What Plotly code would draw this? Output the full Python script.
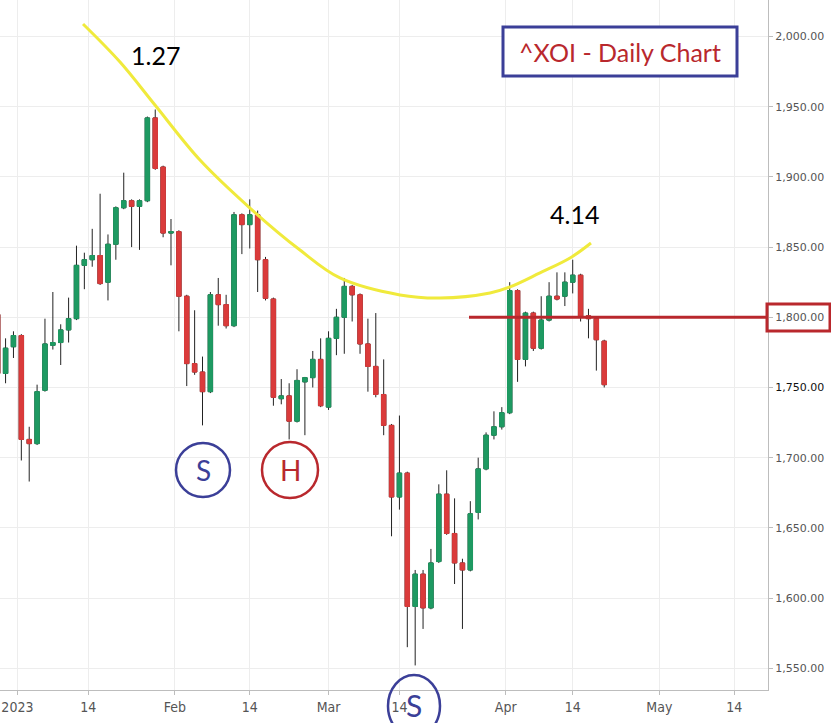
import plotly.graph_objects as go

# ---------------- data ----------------
dates = [
    "2022-12-28", "2022-12-29", "2022-12-30",
    "2023-01-03", "2023-01-04", "2023-01-05", "2023-01-06", "2023-01-09", "2023-01-10",
    "2023-01-11", "2023-01-12", "2023-01-13", "2023-01-17", "2023-01-18", "2023-01-19",
    "2023-01-20", "2023-01-23", "2023-01-24", "2023-01-25", "2023-01-26", "2023-01-27",
    "2023-01-30", "2023-01-31",
    "2023-02-01", "2023-02-02", "2023-02-03", "2023-02-06", "2023-02-07", "2023-02-08",
    "2023-02-09", "2023-02-10", "2023-02-13", "2023-02-14", "2023-02-15", "2023-02-16",
    "2023-02-17", "2023-02-21", "2023-02-22", "2023-02-23", "2023-02-24", "2023-02-27",
    "2023-02-28",
    "2023-03-01", "2023-03-02", "2023-03-03", "2023-03-06", "2023-03-07", "2023-03-08",
    "2023-03-09", "2023-03-10", "2023-03-13", "2023-03-14", "2023-03-15", "2023-03-16",
    "2023-03-17", "2023-03-20", "2023-03-21", "2023-03-22", "2023-03-23", "2023-03-24",
    "2023-03-27", "2023-03-28", "2023-03-29", "2023-03-30", "2023-03-31",
    "2023-04-03", "2023-04-04", "2023-04-05", "2023-04-06", "2023-04-10", "2023-04-11",
    "2023-04-12", "2023-04-13", "2023-04-14", "2023-04-17", "2023-04-18", "2023-04-19",
    "2023-04-20",
]
opens = [
    1802, 1760, 1779,
    1787, 1713, 1710, 1748, 1780, 1782, 1791, 1799, 1837, 1841, 1844, 1825,
    1852, 1878, 1883, 1879, 1883, 1942, 1907, 1860,
    1861, 1815, 1767, 1761, 1747, 1816, 1809, 1794, 1873, 1866, 1873, 1841,
    1813, 1742, 1744, 1726, 1754, 1757, 1770,
    1736, 1785, 1800, 1822, 1816, 1781, 1765, 1745, 1723, 1672, 1689, 1594,
    1617, 1593, 1626, 1674, 1646, 1625, 1620, 1661, 1692, 1716, 1722,
    1732, 1819, 1770, 1803, 1778, 1798, 1815, 1815, 1825, 1830, 1801, 1799,
    1783,
]
highs = [
    1806, 1785, 1790,
    1788, 1722, 1752, 1799, 1818, 1795, 1814, 1851, 1846, 1863, 1888, 1859,
    1879, 1903, 1884, 1884, 1943, 1948, 1908, 1870,
    1862, 1816, 1805, 1772, 1818, 1828, 1816, 1875, 1874, 1884, 1876, 1843,
    1814, 1756, 1753, 1763, 1757.5, 1776, 1785,
    1790, 1806, 1828, 1823, 1817, 1799, 1803, 1770, 1724, 1730, 1690, 1620,
    1620, 1635, 1681, 1691, 1671, 1628, 1669, 1700, 1718, 1733, 1736,
    1825, 1820, 1804, 1804, 1815, 1825, 1832, 1832, 1841, 1831, 1806, 1800,
    1784,
]
lows = [
    1755, 1753, 1771,
    1698, 1683, 1709, 1747, 1777, 1766, 1782, 1798, 1820, 1836, 1823, 1812,
    1841, 1877, 1850, 1848, 1882, 1905, 1857, 1837,
    1790, 1751, 1759, 1723, 1746, 1794, 1792, 1793, 1845, 1849, 1818, 1812,
    1737, 1738, 1713, 1725, 1716, 1750, 1736,
    1734, 1773, 1774, 1797, 1774, 1747, 1743, 1716, 1644, 1663, 1565, 1552,
    1578, 1592, 1625, 1645, 1610, 1578, 1619, 1656, 1691, 1713, 1720,
    1731, 1754, 1765, 1776, 1777, 1797, 1812, 1808, 1817, 1797, 1785, 1762,
    1750,
]
closes = [
    1760, 1778, 1787,
    1713, 1710, 1747, 1781, 1782, 1791, 1799, 1837, 1841, 1844, 1824, 1852,
    1878, 1883, 1879, 1883, 1942, 1906, 1860, 1861,
    1815, 1767, 1761, 1747, 1816, 1809, 1794, 1873, 1866, 1873, 1841, 1813.5,
    1743, 1744, 1726, 1755, 1757, 1770, 1737,
    1785, 1800, 1822, 1816, 1781, 1765, 1745, 1723, 1672, 1689, 1594, 1617,
    1593, 1625, 1674, 1646, 1625, 1620, 1660, 1692, 1716, 1722, 1732,
    1819, 1770, 1803, 1778, 1798, 1815, 1813, 1825, 1830, 1800, 1799, 1784,
    1752,
]

market_holidays = ["2023-01-02", "2023-01-16", "2023-02-20", "2023-04-07"]

# sessions are plotted at mid-day; ticks at day boundaries fall between bars
x_tick_dates = [
    "2023-01-03 00:00", "2023-01-17 00:00", "2023-02-01 00:00", "2023-02-14 12:00",
    "2023-03-01 12:00", "2023-03-14 12:00", "2023-04-03 00:00", "2023-04-14 12:00",
    "2023-05-01 12:00", "2023-05-15 00:00",
]
x_tick_labels = ["2023", "14", "Feb", "14", "Mar", "14", "Apr", "14", "May", "14"]

y_tick_values = [1550, 1600, 1650, 1700, 1750, 1800, 1850, 1900, 1950, 2000]
highlight_tick = 1750

resistance_level = 1800

# hand-drawn yellow arc (x as fraction of plot width, y in price)
arc_x_frac = [0.1081, 0.1563, 0.2018, 0.2604, 0.3255, 0.3906, 0.4427,
              0.5208, 0.5729, 0.6380, 0.6641, 0.7031, 0.7422, 0.7695]
arc_price = [2008.9, 1981.8, 1951.2, 1912.0, 1877.8, 1847.9, 1828.0,
             1815.9, 1813.7, 1817.3, 1821.6, 1831.6, 1842.2, 1852.9]

# ---------------- figure ----------------
GREEN = "#1E9A62"
RED = "#DA3B3B"
BLUE = "#3B3F98"
DARKRED = "#B9282D"
TEXT_FONT = "Lato, Carlito, Calibri, 'Noto Sans', sans-serif"

xs = [d + " 12:00" for d in dates]
body_top = [max(o, c) for o, c in zip(opens, closes)]
body_bot = [min(o, c) for o, c in zip(opens, closes)]

fig = go.Figure()

# full candles with dark wicks
fig.add_trace(go.Candlestick(
    x=xs, open=opens, high=highs, low=lows, close=closes,
    increasing=dict(fillcolor=GREEN, line=dict(color="#222222", width=1)),
    decreasing=dict(fillcolor=RED, line=dict(color="#222222", width=1)),
    whiskerwidth=0, showlegend=False, hoverinfo="skip",
))
# bodies repainted in their own colour (no wick) so the outline matches the fill
fig.add_trace(go.Candlestick(
    x=xs, open=opens, high=body_top, low=body_bot, close=closes,
    increasing=dict(fillcolor=GREEN, line=dict(color=GREEN, width=1)),
    decreasing=dict(fillcolor=RED, line=dict(color=RED, width=1)),
    whiskerwidth=0, showlegend=False, hoverinfo="skip",
))

# yellow arc
fig.add_trace(go.Scatter(x=arc_x_frac, y=arc_price, xaxis="x2", yaxis="y",
                         mode="lines", line=dict(color="#F0EA3C", width=3, shape="spline", smoothing=1.0),
                         hoverinfo="skip", showlegend=False))

y_tick_text = []
for v in y_tick_values:
    s = f"{v:,.2f}"
    if v == highlight_tick:
        s = f"<span style='color:#111111'>{s}</span>"
    y_tick_text.append(s)

PLOT_W = 768
PLOT_H = 690

fig.update_layout(
    width=831, height=723,
    margin=dict(l=0, r=831 - PLOT_W, t=0, b=723 - PLOT_H),
    paper_bgcolor="white", plot_bgcolor="white",
    showlegend=False,
    boxgap=0.25, boxgroupgap=0.25, boxmode="overlay",
    xaxis=dict(
        type="date",
        range=["2022-12-28 19:00", "2023-05-19 07:00"],
        rangebreaks=[dict(bounds=["sat", "mon"]), dict(values=market_holidays)],
        rangeslider=dict(visible=False),
        tickmode="array", tickvals=x_tick_dates, ticktext=x_tick_labels,
        showgrid=True, gridcolor="#EDEDED", gridwidth=1,
        showline=True, linecolor="#BDBDBD", linewidth=1,
        ticks="outside", ticklen=4, tickcolor="#BDBDBD",
        tickfont=dict(family="'Liberation Sans Narrow', 'DejaVu Sans Condensed', Roboto, sans-serif",
                      size=14, color="#555555"),
        zeroline=False, fixedrange=True,
    ),
    xaxis2=dict(overlaying="x", range=[0, 1], visible=False, fixedrange=True),
    yaxis=dict(
        side="right", range=[1534.5, 2026],
        tickmode="array", tickvals=y_tick_values, ticktext=y_tick_text,
        showgrid=True, gridcolor="#EDEDED", gridwidth=1,
        showline=True, linecolor="#BDBDBD", linewidth=1,
        ticks="outside", ticklen=4, tickcolor="#BDBDBD",
        tickfont=dict(family="'DejaVu Sans', Verdana, sans-serif", size=11, color="#555555"),
        zeroline=False, fixedrange=True,
    ),
)

def px_x(p):
    return p / PLOT_W

def px_y(p):
    return 1 - p / PLOT_H

shapes = [
    # 1,800 resistance line
    dict(type="line", xref="paper", yref="y", x0=px_x(469), x1=px_x(767),
         y0=resistance_level, y1=resistance_level, line=dict(color=DARKRED, width=3), layer="above"),
    # box around axis label
    dict(type="rect", xref="paper", yref="paper", x0=px_x(767), x1=px_x(830),
         y0=px_y(331), y1=px_y(304), line=dict(color=DARKRED, width=3), layer="above"),
    # title box
    dict(type="rect", xref="paper", yref="paper", x0=px_x(503), x1=px_x(737),
         y0=px_y(76), y1=px_y(27), line=dict(color=BLUE, width=3), fillcolor="white", layer="above"),
    # S circle
    dict(type="circle", xref="paper", yref="paper", x0=px_x(176), x1=px_x(230),
         y0=px_y(497), y1=px_y(443), line=dict(color=BLUE, width=2.5), layer="above"),
    # H circle
    dict(type="circle", xref="paper", yref="paper", x0=px_x(262), x1=px_x(318),
         y0=px_y(498), y1=px_y(442), line=dict(color=DARKRED, width=2.5), layer="above"),
    # bottom S ellipse
    dict(type="circle", xref="paper", yref="paper", x0=px_x(388), x1=px_x(440),
         y0=px_y(737), y1=px_y(675), line=dict(color=BLUE, width=2.5), layer="above"),
]
fig.update_layout(shapes=shapes)

annotations = [
    dict(text="1.27", x=px_x(155), y=px_y(55), font=dict(size=25, color="black", family=TEXT_FONT)),
    dict(text="4.14", x=px_x(574), y=px_y(214), font=dict(size=25, color="black", family=TEXT_FONT)),
    dict(text="^XOI - Daily Chart", x=px_x(620), y=px_y(52), font=dict(size=25, color=DARKRED, family=TEXT_FONT)),
    dict(text="S", x=px_x(203), y=px_y(470), font=dict(size=28, color=BLUE, family=TEXT_FONT)),
    dict(text="H", x=px_x(290), y=px_y(470), font=dict(size=28, color=DARKRED, family=TEXT_FONT)),
    dict(text="S", x=px_x(414), y=px_y(705), font=dict(size=30, color=BLUE, family=TEXT_FONT)),
]
for a in annotations:
    a.update(xref="paper", yref="paper", showarrow=False, xanchor="center", yanchor="middle")
fig.update_layout(annotations=annotations)

fig.write_html("out.html",
               config={"displayModeBar": False, "staticPlot": True},
               post_script="document.body.style.margin='0';document.body.style.overflow='hidden';")
